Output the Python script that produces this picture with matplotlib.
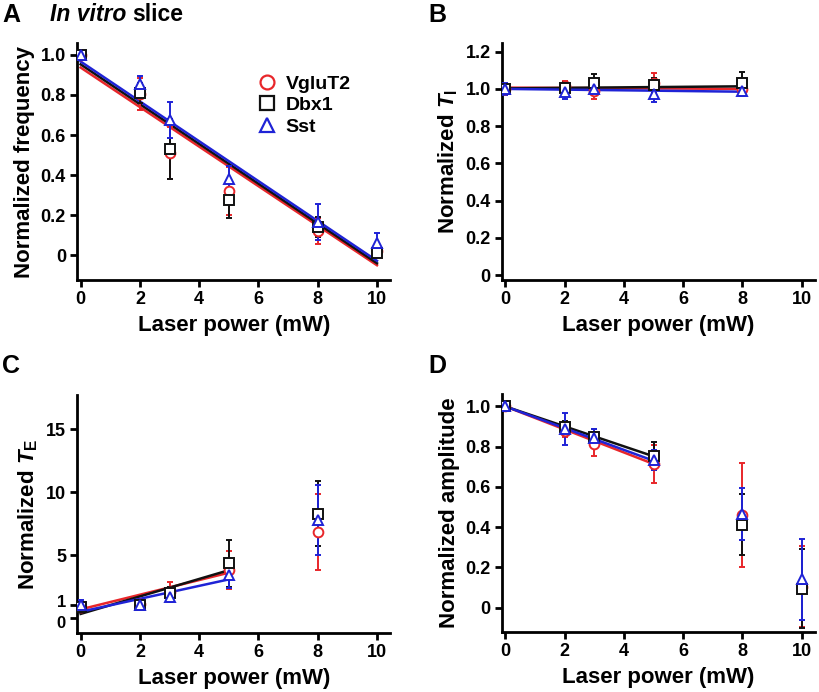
import numpy as np
import matplotlib
matplotlib.use("Agg")
import matplotlib.pyplot as plt
from matplotlib.lines import Line2D
from matplotlib.transforms import ScaledTranslation

plt.rcParams["font.family"] = "Liberation Sans"
plt.rcParams["font.weight"] = "bold"
plt.rcParams["mathtext.fontset"] = "custom"
plt.rcParams["mathtext.rm"] = "Liberation Sans:bold"
plt.rcParams["mathtext.it"] = "Liberation Sans:bold:italic"

series = ["VgluT2", "Dbx1", "Sst"]
colors = ["#e8262a", "#111111", "#1f23d6"]
markers = ["o", "s", "^"]

# A: normalized frequency
freq_x = [0, 2, 3, 5, 8, 10]
freq_y = {
    "VgluT2": [1.0, 0.805, 0.51, 0.32, 0.12, 0.02],
    "Dbx1": [1.0, 0.81, 0.53, 0.275, 0.14, 0.01],
    "Sst": [1.0, 0.855, 0.675, 0.383, 0.167, 0.06],
}
freq_err = {
    "VgluT2": [0.0, 0.08, 0.13, 0.12, 0.065, 0.03],
    "Dbx1": [0.0, 0.05, 0.15, 0.09, 0.05, 0.02],
    "Sst": [0.0, 0.04, 0.09, 0.06, 0.09, 0.05],
}
# linear fit lines: value at x=0 and at end of fit range
freq_fit = {"VgluT2": (0.937, -0.05), "Dbx1": (0.953, -0.04), "Sst": (0.967, -0.028)}

# B: normalized T_I
ti_x = [0, 2, 3, 5, 8]
ti_y = {
    "VgluT2": [1.0, 1.015, 0.99, 1.033, 1.0],
    "Dbx1": [1.0, 1.005, 1.033, 1.02, 1.03],
    "Sst": [1.0, 0.985, 1.0, 0.973, 0.99],
}
ti_err = {
    "VgluT2": [0.01, 0.03, 0.045, 0.055, 0.03],
    "Dbx1": [0.01, 0.03, 0.045, 0.04, 0.062],
    "Sst": [0.03, 0.04, 0.03, 0.045, 0.03],
}
ti_fit = {"VgluT2": (1.007, 1.0), "Dbx1": (1.003, 1.014), "Sst": (1.0, 0.985)}

# C: normalized T_E
te_x = [0, 2, 3, 5, 8]
te_y = {
    "VgluT2": [0.9, 1.1, 2.1, 3.8, 6.85],
    "Dbx1": [0.9, 1.0, 2.0, 4.35, 8.3],
    "Sst": [1.0, 1.05, 1.7, 3.4, 7.8],
}
te_err = {
    "VgluT2": [0.3, 0.3, 0.8, 1.5, 3.0],
    "Dbx1": [0.3, 0.3, 0.5, 1.85, 2.6],
    "Sst": [0.4, 0.3, 0.4, 1.0, 2.8],
}
te_fit = {"VgluT2": (0.69, 3.6), "Dbx1": (0.33, 3.8), "Sst": (0.5, 3.07)}

# D: normalized amplitude
amp_x = [0, 2, 3, 5, 8, 10]
amp_y = {
    "VgluT2": [1.0, 0.88, 0.815, 0.715, 0.46, 0.105],
    "Dbx1": [1.0, 0.90, 0.848, 0.755, 0.413, 0.094],
    "Sst": [1.0, 0.888, 0.843, 0.735, 0.465, 0.14],
}
amp_err = {
    "VgluT2": [0.01, 0.03, 0.06, 0.095, 0.26, 0.2],
    "Dbx1": [0.01, 0.03, 0.04, 0.07, 0.153, 0.195],
    "Sst": [0.01, 0.078, 0.045, 0.05, 0.13, 0.2],
}
amp_fit = {"VgluT2": (1.0, 0.714), "Dbx1": (1.0, 0.752), "Sst": (1.0, 0.73)}

fig = plt.figure(figsize=(8.2, 6.92), dpi=100)
axA = fig.add_axes([0.094, 0.595, 0.382, 0.343])
axB = fig.add_axes([0.612, 0.595, 0.382, 0.343])
axC = fig.add_axes([0.094, 0.085, 0.382, 0.344])
axD = fig.add_axes([0.612, 0.087, 0.382, 0.344])


def panel(ax, xs, ys, errs, fits, fit_end):
    for name, c in zip(series, colors):
        ax.plot([0, fit_end], fits[name], color=c, lw=1.8, zorder=2)
    for name, c, m in zip(series, colors, markers):
        ax.errorbar(xs, ys[name], yerr=errs[name], fmt=m, color=c, mec=c,
                    mfc="white", ms=7, mew=1.4, elinewidth=1.4, capsize=2.5,
                    capthick=1.4, zorder=3)
    for s in ["top", "right"]:
        ax.spines[s].set_visible(False)
    for s in ["left", "bottom"]:
        ax.spines[s].set_linewidth(2)
    ax.tick_params(width=2, length=5, labelsize=13, pad=3)
    ax.set_xticks([0, 2, 4, 6, 8, 10])
    ax.set_xlim(-0.12, 10.45)
    ax.set_xlabel("Laser power (mW)", fontsize=16, fontweight="bold", labelpad=5)


panel(axA, freq_x, freq_y, freq_err, freq_fit, 10)
axA.set_ylim(-0.125, 1.06)
axA.set_yticks([0, 0.2, 0.4, 0.6, 0.8, 1.0])
axA.set_yticklabels(["0", "0.2", "0.4", "0.6", "0.8", "1.0"])
axA.set_ylabel("Normalized frequency", fontsize=16, fontweight="bold", labelpad=4)
handles = [Line2D([], [], ls="none", marker=m, mec=c, mfc="white", ms=10, mew=1.6)
           for c, m in zip(colors, markers)]
axA.legend(handles, series, loc="upper left", bbox_to_anchor=(0.545, 0.905),
           frameon=False, fontsize=14, handlelength=1.0, handletextpad=0.45,
           labelspacing=0.2, borderpad=0)

panel(axB, ti_x, ti_y, ti_err, ti_fit, 8)
axB.set_ylim(-0.027, 1.247)
axB.set_yticks([0, 0.2, 0.4, 0.6, 0.8, 1.0, 1.2])
axB.set_yticklabels(["0", "0.2", "0.4", "0.6", "0.8", "1.0", "1.2"])
axB.set_ylabel(r"Normalized $\mathit{T}_\mathregular{I}$", fontsize=16,
               fontweight="bold", labelpad=4)

panel(axC, te_x, te_y, te_err, te_fit, 5)
axC.set_ylim(-1.2, 17.7)
axC.set_yticks([0, 1, 5, 10, 15])
axC.set_ylabel(r"Normalized $\mathit{T}_\mathregular{E}$", fontsize=16,
               fontweight="bold", labelpad=4)
# keep the crowded "0" and "1" labels apart
ylabs = axC.get_yticklabels()
ylabs[0].set_transform(ylabs[0].get_transform() + ScaledTranslation(0, -3 / 72, fig.dpi_scale_trans))
ylabs[1].set_transform(ylabs[1].get_transform() + ScaledTranslation(0, 3 / 72, fig.dpi_scale_trans))
for lab in ylabs[:2]:
    lab.set_fontsize(12)

panel(axD, amp_x, amp_y, amp_err, amp_fit, 5)
axD.set_ylim(-0.12, 1.063)
axD.set_yticks([0, 0.2, 0.4, 0.6, 0.8, 1.0])
axD.set_yticklabels(["0", "0.2", "0.4", "0.6", "0.8", "1.0"])
axD.set_ylabel("Normalized amplitude", fontsize=16, fontweight="bold", labelpad=4)

fig.text(0.003, 0.968, "A", fontsize=18, fontweight="bold")
fig.text(0.061, 0.970, "In vitro", fontsize=16.5, fontweight="bold", style="italic")
fig.text(0.161, 0.970, "slice", fontsize=16.5, fontweight="bold")
fig.text(0.522, 0.968, "B", fontsize=18, fontweight="bold")
fig.text(0.003, 0.461, "C", fontsize=18, fontweight="bold")
fig.text(0.522, 0.461, "D", fontsize=18, fontweight="bold")

fig.savefig("out.png", dpi=100)
